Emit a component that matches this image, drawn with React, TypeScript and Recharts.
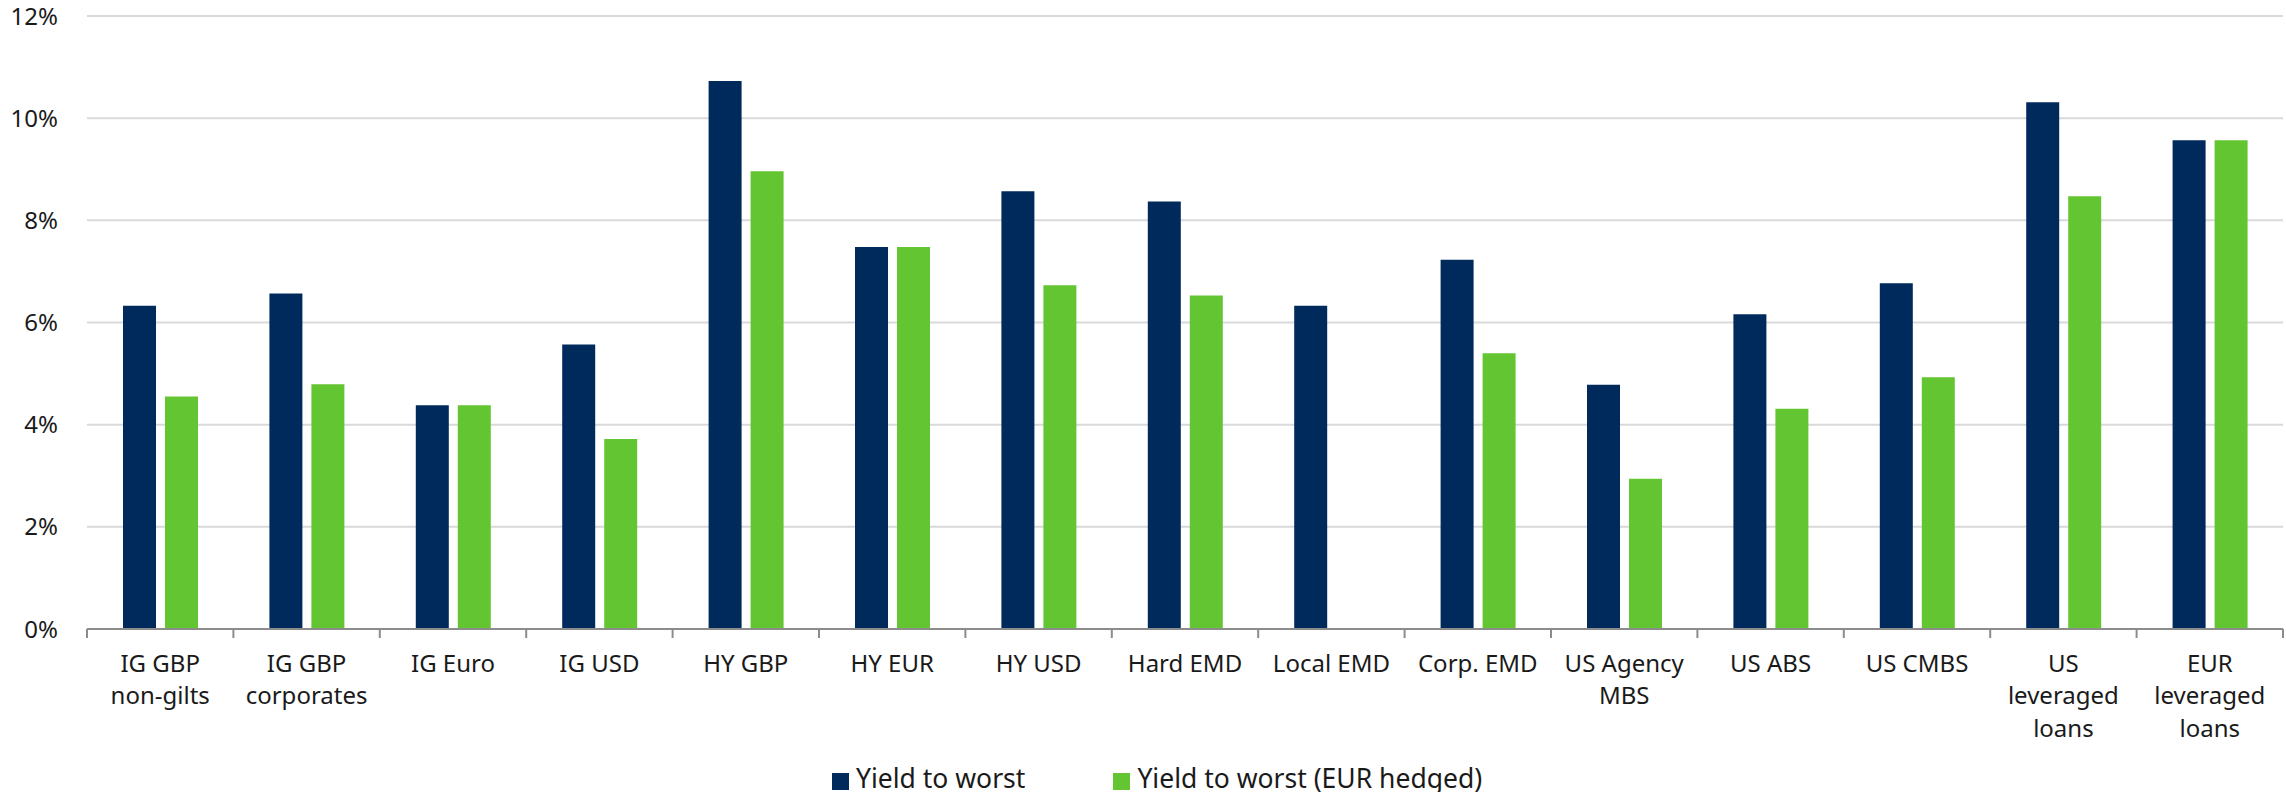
import React from "react";
import { BarChart, Bar, XAxis, YAxis, CartesianGrid, Legend } from "recharts";

const categories = [
  "IG GBP\nnon-gilts",
  "IG GBP\ncorporates",
  "IG Euro",
  "IG USD",
  "HY GBP",
  "HY EUR",
  "HY USD",
  "Hard EMD",
  "Local EMD",
  "Corp. EMD",
  "US Agency\nMBS",
  "US ABS",
  "US CMBS",
  "US\nleveraged\nloans",
  "EUR\nleveraged\nloans",
];

const yieldToWorst = [6.33, 6.57, 4.38, 5.57, 10.73, 7.48, 8.57, 8.37, 6.33, 7.23, 4.78, 6.16, 6.77, 10.31, 9.57];
const yieldEurHedged = [4.55, 4.79, 4.38, 3.72, 8.96, 7.48, 6.73, 6.53, null, 5.4, 2.94, 4.31, 4.93, 8.47, 9.57];

const yTicks = [0, 2, 4, 6, 8, 10, 12];

const NAVY = "#002a5c";
const GREEN = "#64c532";
const AXIS = "#8c8c8c";
const GRID = "#d9d9d9";
const TEXT = "#1a1a1a";
const FONT = "'Noto Sans', sans-serif";

const W = 2286;
const H = 792;
const Y_AXIS_W = 87;
const RIGHT = 3;
const BAND = (W - Y_AXIS_W - RIGHT) / categories.length;

const data = categories.map((name, i) => ({
  name,
  ytw: yieldToWorst[i],
  hedged: yieldEurHedged[i],
}));

function CategoryTick(props: any) {
  const { x, y, payload, index } = props;
  const lines = String(payload.value).split("\n");
  const half = BAND / 2;
  return (
    <g>
      <line x1={x - half} x2={x - half} y1={y} y2={y + 9} stroke={AXIS} strokeWidth={2} />
      {index === categories.length - 1 && (
        <line x1={x + half} x2={x + half} y1={y} y2={y + 9} stroke={AXIS} strokeWidth={2} />
      )}
      <text x={x} y={y} textAnchor="middle" fontSize={24} fill={TEXT} fontFamily={FONT}>
        {lines.map((l, i) => (
          <tspan key={i} x={x} dy={i === 0 ? 43 : 32.4}>
            {l}
          </tspan>
        ))}
      </text>
    </g>
  );
}

function LegendContent(props: any) {
  const { payload } = props;
  return (
    <div
      style={{
        height: 30,
        display: "flex",
        paddingLeft: 832,
        fontFamily: FONT,
        fontSize: 26.5,
        lineHeight: "26px",
        color: TEXT,
      }}
    >
      {(payload || []).map((entry: any, i: number) => (
        <div key={i} style={{ display: "flex", alignItems: "flex-start", marginRight: 88 }}>
          <span
            style={{
              display: "inline-block",
              width: 17,
              height: 17,
              marginTop: 11,
              marginRight: 7,
              background: entry.color,
            }}
          />
          <span style={{ paddingTop: 3, whiteSpace: "nowrap" }}>{entry.value}</span>
        </div>
      ))}
    </div>
  );
}

export default function App() {
  return (
    <div style={{ position: "absolute", left: 0, top: 0, width: W, height: H, background: "#fff" }}>
      <BarChart
        width={W}
        height={H}
        data={data}
        margin={{ top: 16, right: RIGHT, left: 0, bottom: 0 }}
        barSize={33}
        barGap={9}
      >
        <CartesianGrid vertical={false} stroke={GRID} strokeWidth={2} />
        <XAxis
          dataKey="name"
          interval={0}
          height={133}
          tickLine={false}
          tickSize={0}
          tickMargin={0}
          axisLine={{ stroke: AXIS, strokeWidth: 2 }}
          tick={<CategoryTick />}
        />
        <YAxis
          width={Y_AXIS_W}
          domain={[0, 12]}
          ticks={yTicks}
          interval={0}
          axisLine={false}
          tickLine={false}
          tickSize={0}
          tickMargin={29}
          tickFormatter={(v: number) => `${v}%`}
          tick={{ fontSize: 24, fill: TEXT, fontFamily: FONT }}
        />
        <Legend verticalAlign="bottom" height={30} content={<LegendContent />} />
        <Bar dataKey="ytw" name="Yield to worst" fill={NAVY} isAnimationActive={false} />
        <Bar dataKey="hedged" name="Yield to worst (EUR hedged)" fill={GREEN} isAnimationActive={false} />
      </BarChart>
    </div>
  );
}
